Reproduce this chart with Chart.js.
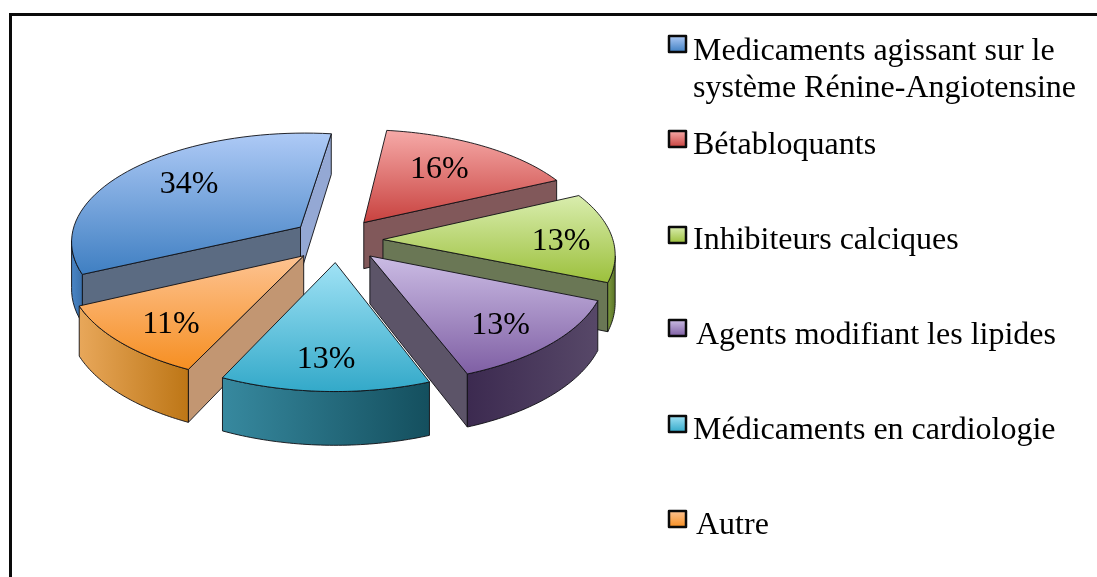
<!DOCTYPE html>
<html>
<head>
<meta charset="utf-8">
<style>
    html, body { margin: 0; padding: 0; background: #fff; overflow: hidden; }
    #wrap { position: relative; width: 1097px; height: 577px; overflow: hidden; }
    #frame { position: absolute; left: 9px; top: 13px; width: 1200px; height: 700px; border: 3px solid #0a0a0a; }
    canvas { position: absolute; left: 0; top: 0; }
</style>
<script src="https://cdn.jsdelivr.net/npm/chart.js@4/dist/chart.umd.min.js"></script>
</head>
<body>
<div id="wrap">
    <div id="frame"></div>
    <canvas id="pie" width="1097" height="577"></canvas>
</div>
<script>
// =========================
// DATA
// =========================

const categories = [
    ["Medicaments agissant sur le", "système Rénine-Angiotensine"],
    "Bétabloquants",
    "Inhibiteurs calciques",
    "Agents modifiant les lipides",
    "Médicaments en cardiologie",
    "Autre"
];
const shares = [34, 16, 13, 13, 13, 11];

// =========================
// COLOURS
// =========================

const topLight  = ["#aecaf6", "#f6aaa8", "#d9edae", "#cbbce4", "#a0e2f5", "#fdc392"];
const topDark   = ["#3f7fc2", "#c8423f", "#9cc03c", "#7f5fa4", "#33a9c9", "#f68f22"];
const rimLeft   = ["#4a86c6", "#8c3a38", "#7d9a3e", "#3c2a50", "#37899f", "#e8a75a"];
const rimRight  = ["#3a70ab", "#8c3a38", "#5a7428", "#574868", "#144f5e", "#bd7616"];
const frontWall = ["#5b6b82", "#81585a", "#6a7755", "#5c5468", "#2f7f92", "#c29672"];
const sideWall  = ["#94a8d4", "#81585a", "#6a7755", "#5c5468", "#2f7f92", "#c29672"];

// =========================
// LAYOUT
// =========================

const tilt = 0.48;
const perspective = 0.12;
const depth = 47;
const labelRadius = [0.65, 0.57, 0.76, 0.7, 0.7, 0.75];
const labelNudgeX = [0, 5, 4, 7, -2, 2];
const labelNudgeY = [-3, -7, 4, 9, 10, 5];
const legendSwatchX = 669;
const legendSwatchY = [36, 131, 227, 320, 416, 511];
const legendTextX = [693, 693, 693, 696, 693, 696];
const legendBaseline = [60, 154, 249, 344, 439, 534];
const legendLineGap = 37;
const serif = '32px "Liberation Serif"';

// =========================
// 3D PIE DRAWING
// =========================

function sliceGeometry(arc) {
    const p = arc.getProps(["x", "y", "startAngle", "endAngle", "outerRadius"], true);
    const off = arc.options.offset;
    const mid = (p.startAngle + p.endAngle) / 2;
    const ox = off * Math.cos(mid);
    const oy = off * Math.sin(mid);

    const project = (angle, ratio) => {
        const wx = ox + ratio * p.outerRadius * Math.cos(angle);
        const wy = oy + ratio * p.outerRadius * Math.sin(angle);
        const s = 1 + perspective * wy / p.outerRadius;
        return { x: p.x + wx * s, y: p.y + wy * tilt * s, drop: depth * s };
    };

    const rim = [];
    const steps = 48;
    for (let i = 0; i <= steps; i++) {
        rim.push(project(p.startAngle + (p.endAngle - p.startAngle) * i / steps, 1));
    }

    return { project, rim, apex: project(mid, 0), mid };
}

function tracePolygon(ctx, points) {
    ctx.beginPath();
    points.forEach((pt, i) => {
        if (i === 0) ctx.moveTo(pt.x, pt.y);
        else ctx.lineTo(pt.x, pt.y);
    });
    ctx.closePath();
}

function drawWall(ctx, upper, fill) {
    const lower = upper.slice().reverse().map(pt => ({ x: pt.x, y: pt.y + pt.drop }));
    tracePolygon(ctx, upper.concat(lower));
    ctx.fillStyle = fill;
    ctx.fill();
    ctx.stroke();
}

function drawSlice(ctx, geo, i) {
    const { rim, apex } = geo;
    const first = rim[0];
    const last = rim[rim.length - 1];

    ctx.lineWidth = 1;
    ctx.lineJoin = "round";
    ctx.strokeStyle = "rgba(15,15,20,0.9)";

    // straight cut faces, only the ones that look down at the viewer
    if (first.x < apex.x) drawWall(ctx, [apex, first], frontWall[i]);
    if (apex.x < last.x) drawWall(ctx, [last, apex], i === 0 ? sideWall[i] : frontWall[i]);

    // outer rim, the part that runs right to left on screen faces us
    const visible = [];
    for (let k = 0; k < rim.length - 1; k++) {
        if (rim[k + 1].x < rim[k].x) {
            if (!visible.length) visible.push(rim[k]);
            visible.push(rim[k + 1]);
        }
    }
    if (visible.length > 1) {
        const right = visible[0].x;
        const left = visible[visible.length - 1].x;
        const grad = ctx.createLinearGradient(left, 0, right, 0);
        grad.addColorStop(0, rimLeft[i]);
        grad.addColorStop(1, rimRight[i]);
        drawWall(ctx, visible, grad);
    }

    // top face
    const outline = [apex].concat(rim);
    const ys = outline.map(pt => pt.y);
    const grad = ctx.createLinearGradient(0, Math.min(...ys), 0, Math.max(...ys));
    grad.addColorStop(0, topLight[i]);
    grad.addColorStop(1, topDark[i]);
    tracePolygon(ctx, outline);
    ctx.fillStyle = grad;
    ctx.fill();
    ctx.stroke();
}

function drawLegend(ctx, chart) {
    ctx.textAlign = "left";
    ctx.textBaseline = "alphabetic";
    ctx.font = serif;

    chart.data.labels.forEach((label, i) => {
        const y = legendSwatchY[i];
        const grad = ctx.createLinearGradient(0, y, 0, y + 16);
        grad.addColorStop(0, topLight[i]);
        grad.addColorStop(1, topDark[i]);
        ctx.fillStyle = grad;
        ctx.strokeStyle = "#0a0a0a";
        ctx.lineWidth = 2.5;
        ctx.fillRect(legendSwatchX, y, 17, 16);
        ctx.strokeRect(legendSwatchX, y, 17, 16);

        ctx.fillStyle = "#000";
        [].concat(label).forEach((line, n) => {
            ctx.fillText(line, legendTextX[i], legendBaseline[i] + n * legendLineGap);
        });
    });
}

const pie3d = {
    id: "pie3d",
    beforeDatasetsDraw(chart) {
        const ctx = chart.ctx;
        const arcs = chart.getDatasetMeta(0).data;
        const slices = arcs.map((arc, i) => ({ i, geo: sliceGeometry(arc) }));

        // back to front
        const order = slices.slice().sort((a, b) => a.geo.apex.y - b.geo.apex.y);

        ctx.save();
        order.forEach(s => drawSlice(ctx, s.geo, s.i));

        ctx.fillStyle = "#000";
        ctx.font = serif;
        ctx.textAlign = "center";
        ctx.textBaseline = "middle";
        slices.forEach(s => {
            const pos = s.geo.project(s.geo.mid, labelRadius[s.i]);
            ctx.fillText(shares[s.i] + "%", pos.x + labelNudgeX[s.i], pos.y + labelNudgeY[s.i]);
        });

        drawLegend(ctx, chart);
        ctx.restore();

        // the flat arcs are replaced by the drawing above
        return false;
    }
};

// =========================
// CHART
// =========================

new Chart(document.getElementById("pie"), {
    type: "pie",
    plugins: [pie3d],
    data: {
        labels: categories,
        datasets: [{
            data: shares,
            backgroundColor: topDark,
            borderWidth: 0,
            offset: 46
        }]
    },
    options: {
        responsive: false,
        animation: false,
        rotation: -114.8,
        radius: 230,
        layout: { padding: { right: 423, bottom: 97 } },
        plugins: {
            legend: { display: false },
            tooltip: { enabled: false }
        }
    }
});
</script>
</body>
</html>
